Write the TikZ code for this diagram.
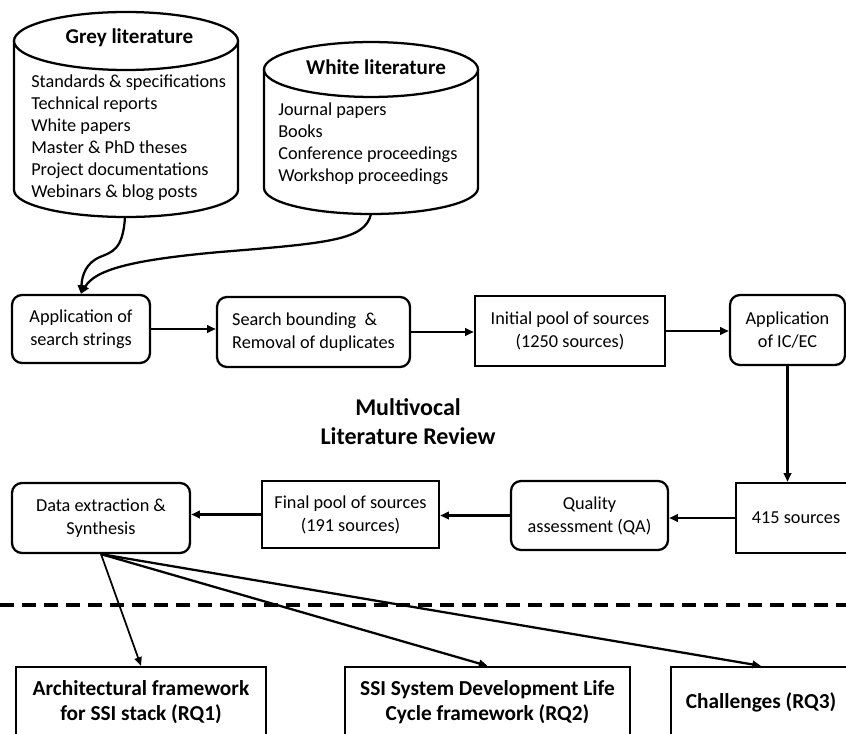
\documentclass[tikz,border=0pt]{standalone}
\usepackage{fontspec}
\setmainfont{Carlito}
\usetikzlibrary{arrows.meta}

\tikzset{
  every node/.style={inner sep=0pt},
  txt/.style={font=\fontsize{13.7}{17.2}\selectfont, align=center},
  roundbox/.style={txt, draw, line width=1.7pt, rounded corners=7.5pt},
  sharpbox/.style={txt, draw, line width=1.7pt},
  rqbox/.style={draw, line width=1.7pt, align=center,
    font=\bfseries\fontsize{16}{18.8}\selectfont},
  cyl/.style={draw, line width=1.7pt, fill=white},
  flow/.style={line width=1.7pt, -{Triangle[length=6.5pt,width=5.5pt]}},
  listtxt/.style={font=\fontsize{13.7}{16.5}\selectfont, align=left, anchor=west},
  cyltitle/.style={font=\bfseries\fontsize{15.8}{18}\selectfont}
}

\begin{document}
\begin{tikzpicture}[x=0.75pt, y=-0.75pt]
\useasboundingbox (0,0) rectangle (846,734);
\clip (0,0) rectangle (846,734);

% grey literature store
\draw[cyl] (14,41) -- (14,190)
  arc[start angle=180, end angle=360, x radius=84pt, y radius=20.25pt]
  -- (238,41);
\draw[cyl] (126,41) ellipse [x radius=84pt, y radius=21.75pt];
\node[cyltitle] (greyt) at (129.5,38) {Grey literature};
\node[listtxt] (greyl) at (31,138) {Standards \& specifications\\Technical reports\\White papers\\Master \& PhD theses\\Project documentations\\Webinars \& blog posts};
\coordinate (gbot) at (125,217);

% white literature store
\draw[cyl] (264,69.5) -- (264,188)
  arc[start angle=180, end angle=360, x radius=80.25pt, y radius=19.5pt]
  -- (478,69.5);
\draw[cyl] (371,69.5) ellipse [x radius=80.25pt, y radius=20.6pt];
\node[cyltitle] (whitet) at (376,67) {White literature};
\node[listtxt] (whitel) at (278,144) {Journal papers\\Books\\Conference proceedings\\Workshop proceedings};
\coordinate (wbot) at (371,214);

% first row of steps
\node[roundbox, minimum width=103.5pt, minimum height=51pt] (as) at (81,329) {Application of\\search strings};
\node[roundbox, minimum width=144.75pt, minimum height=52.5pt, align=left] (sb) at (313.5,332) {Search bounding~~\&\\Removal of duplicates};
\node[sharpbox, minimum width=142.5pt, minimum height=52.5pt] (ip) at (570,331) {Initial pool of sources\\(1250 sources)};
\node[roundbox, minimum width=86.25pt, minimum height=52.5pt] (ic) at (787.5,330) {Application\\of IC/EC};

% title
\node[font=\bfseries\fontsize{18}{21.75}\selectfont, align=center] (mlr) at (408,422) {Multivocal\\Literature Review};

% second row of steps
\node[sharpbox, minimum width=90pt, minimum height=52.5pt] (s415) at (796,518) {415 sources};
\node[roundbox, minimum width=117.75pt, minimum height=51.75pt] (qa) at (589.5,515.5) {Quality\\assessment (QA)};
\node[sharpbox, minimum width=132.75pt, minimum height=50.25pt] (fp) at (350.5,514.5) {Final pool of sources\\(191 sources)};
\node[roundbox, minimum width=133.5pt, minimum height=52.5pt] (de) at (101,518) {Data extraction \&\\Synthesis};

% research question outcomes
\node[rqbox, minimum width=187.5pt, minimum height=53.25pt] (rq1) at (141,702.5) {Architectural framework\\for SSI stack (RQ1)};
\node[rqbox, minimum width=213.75pt, minimum height=53.25pt] (rq2) at (487.5,702.5) {SSI System Development Life\\Cycle framework (RQ2)};
\node[rqbox, minimum width=135pt, minimum height=53.25pt] (rq3) at (761,702.5) {Challenges (RQ3)};

% separator
\draw[line width=3pt, dash pattern=on 10.5pt off 6pt] (0,605) -- (846,605);

% sources feeding the search
\draw[flow] (gbot) .. controls (123,250) and (112,252) .. (100,257)
  .. controls (86,263) and (82,275) .. (as.north);
\draw[flow] (wbot) .. controls (365,240) and (330,243) .. (220,252)
  .. controls (130,260) and (95,270) .. (as.north);

% process flow
\draw[flow] (as.east) -- (as.east -| sb.west);
\draw[flow] (sb.east) -- (sb.east -| ip.west);
\draw[flow] (ip.east) -- (ip.east -| ic.west);
\draw[flow] (ic.south) -- (ic.south |- s415.north);
\draw[flow] (s415.west) -- (s415.west -| qa.east);
\draw[flow] (qa.west) -- (qa.west -| fp.east);
\draw[flow] (fp.west) -- (fp.west -| de.east);

% synthesis outcomes
\draw[flow, line width=1.3pt] (de.south) -- (rq1.north);
\draw[flow] (de.south) -- (rq2.north);
\draw[flow] (de.south) -- (rq3.north);
\end{tikzpicture}
\end{document}
